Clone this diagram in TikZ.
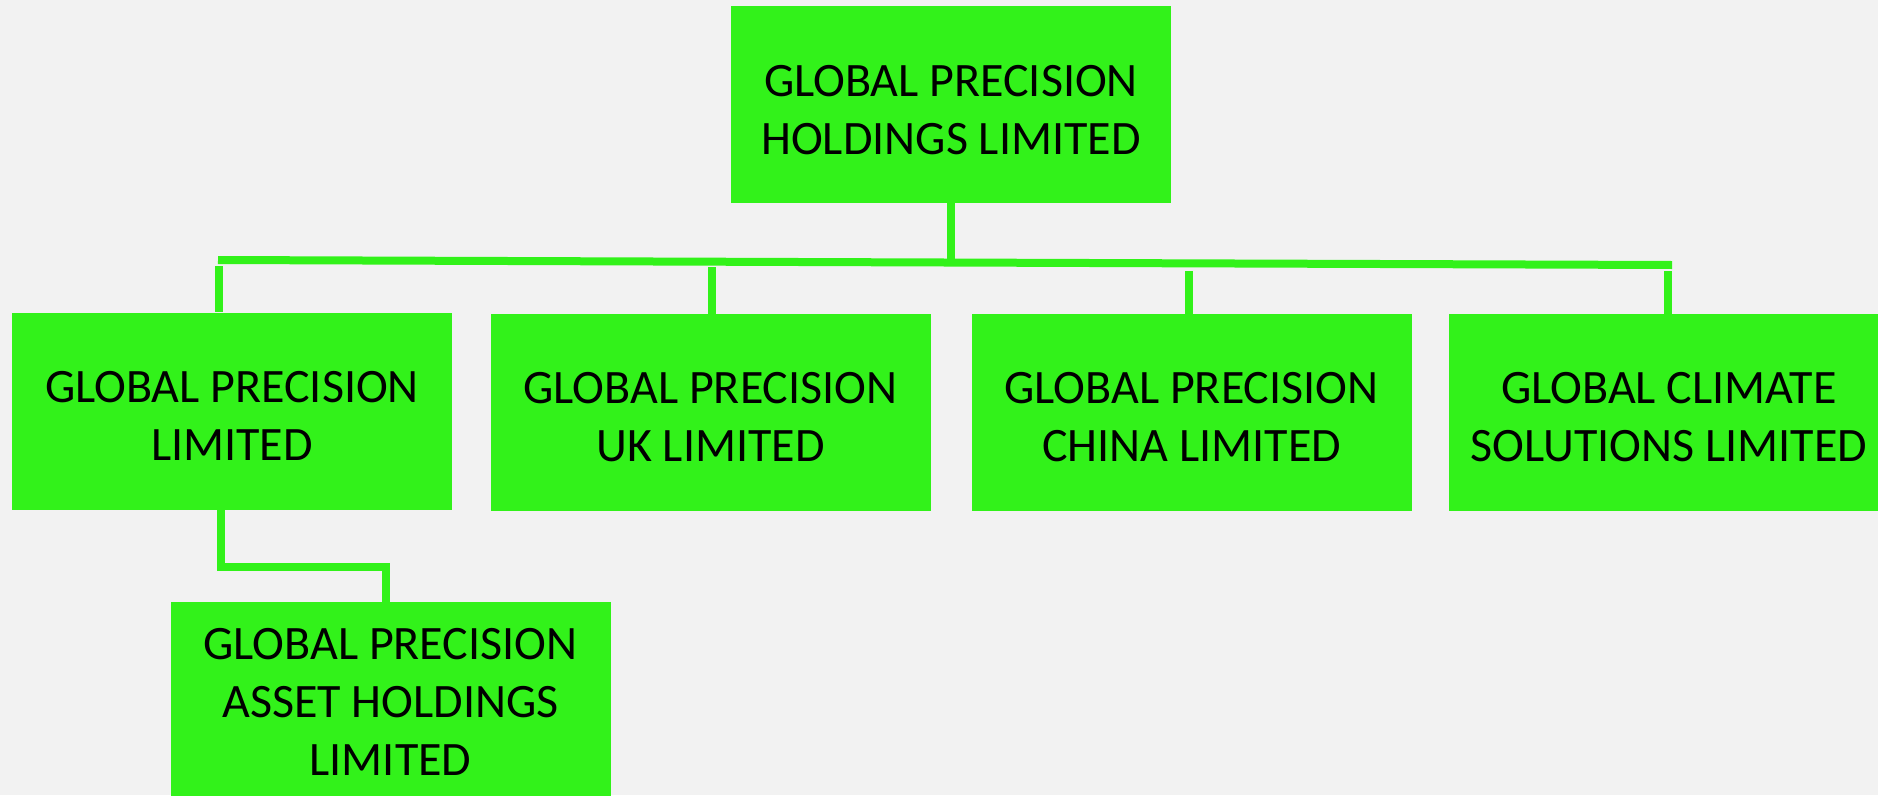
\documentclass[tikz,border=0pt]{standalone}
\usepackage{fontspec}
\setmainfont{Carlito}
\definecolor{boxgreen}{RGB}{50,242,26}
\definecolor{bg}{RGB}{242,242,242}
\tikzset{
  orgbox/.style={rectangle, fill=boxgreen, draw=none, inner sep=0pt,
    minimum width=440pt, minimum height=197pt},
  boxtext/.style={align=center, inner sep=0pt,
    font=\fontsize{48pt}{58pt}\selectfont},
  conn/.style={draw=boxgreen, line width=8pt},
}
\begin{document}
\begin{tikzpicture}[x=1pt,y=-1pt]
\fill[bg] (0,0) rectangle (1878,795);
\useasboundingbox (0,0) rectangle (1878,795);
\clip (0,0) rectangle (1878,795);
\node[orgbox] (top) at (951,104) {};
\node[orgbox] (l1) at (232,411) {};
\node[orgbox] (l2) at (710.5,412.5) {};
\node[orgbox] (l3) at (1191.5,412.5) {};
\node[orgbox] (l4) at (1669,412.5) {};
\node[orgbox, minimum height=200pt] (b1) at (390.5,702) {};
\node[boxtext, yshift=-6pt] (toptxt) at (top.center) {GLOBAL PRECISION\\HOLDINGS LIMITED};
\node[boxtext, yshift=-5pt] (l1txt) at (l1.center) {GLOBAL PRECISION\\LIMITED};
\node[boxtext, yshift=-5pt] (l2txt) at (l2.center) {GLOBAL PRECISION\\UK LIMITED};
\node[boxtext, yshift=-5pt] (l3txt) at (l3.center) {GLOBAL PRECISION\\CHINA LIMITED};
\node[boxtext, yshift=-5pt] (l4txt) at (l4.center) {GLOBAL CLIMATE\\SOLUTIONS LIMITED};
\node[boxtext] (b1txt) at (b1.center) {GLOBAL PRECISION\\ASSET HOLDINGS\\LIMITED};
% bus
\coordinate (hl) at (218,260);
\coordinate (hr) at (1672,265);
\coordinate (hm) at (951,262);
\draw[conn] (hl) -- (hr);
\draw[conn] (top.south -| hm) -- (hm);
% drops
\coordinate (d1) at (219,266);
\coordinate (d2) at (712,267);
\coordinate (d3) at (1189,271);
\coordinate (d4) at (1668,271);
\draw[conn] (d1) -- (d1 |- l1.north);
\draw[conn] (d2) -- (d2 |- l2.north);
\draw[conn] (d3) -- (d3 |- l3.north);
\draw[conn] (d4) -- (d4 |- l4.north);
% lower branch
\coordinate (e1) at (220.5,567);
\coordinate (e2) at (386,567);
\draw[conn] (e1 |- l1.south) -- (e1) -- (e2) -- (e2 |- b1.north);
\end{tikzpicture}
\end{document}
